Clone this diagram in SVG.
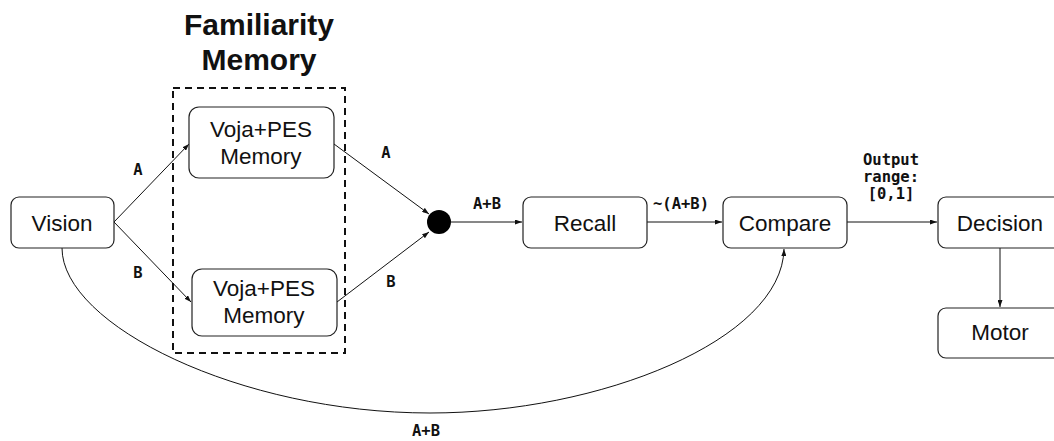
<svg xmlns="http://www.w3.org/2000/svg" width="1054" height="441" viewBox="0 0 1054 441">
<style>
.box{fill:#fff;stroke:#222;stroke-width:1.2}
.t{font-family:"Liberation Sans",Arial,sans-serif;font-size:22.5px;fill:#111;text-anchor:middle}
.title{font-family:"Liberation Sans",Arial,sans-serif;font-size:30px;font-weight:bold;fill:#111;text-anchor:middle}
.lbl{font-family:"DejaVu Sans Mono","Liberation Mono",monospace;font-size:15.5px;font-weight:bold;fill:#111;text-anchor:middle}
.e{fill:none;stroke:#111;stroke-width:1;marker-end:url(#arr)}
</style>
<defs>
<marker id="arr" markerUnits="userSpaceOnUse" viewBox="0 0 7 5" markerWidth="7" markerHeight="5" refX="7" refY="2.5" orient="auto">
<path d="M0,0 L7,2.5 L0,5 z" fill="#111"/>
</marker>
</defs>
<rect width="1054" height="441" fill="#fff"/>

<g id="familiarity-group">
<rect x="173" y="88" width="172" height="265" fill="none" stroke="#111" stroke-width="2" stroke-dasharray="7 5"/>
<text class="title" x="259" y="35">Familiarity</text>
<text class="title" x="259" y="70">Memory</text>
</g>

<g id="connectors">
<path class="e" d="M114,222 L189,144"/>
<path class="e" d="M114,222 L191,302"/>
<path class="e" d="M334,144 L429,214"/>
<path class="e" d="M337,302 L429,232"/>
<path class="e" d="M451,222 L522,222"/>
<path class="e" d="M647,222 L722,222"/>
<path class="e" d="M847,222 L937,222"/>
<path class="e" d="M1000,248 L1000,307"/>
<path class="e" d="M62,248 C62,325 240,413 430,413 C600,413 782,340 784,249"/>
<text class="lbl" x="138" y="175">A</text>
<text class="lbl" x="138" y="278">B</text>
<text class="lbl" x="386" y="158">A</text>
<text class="lbl" x="391" y="287">B</text>
<text class="lbl" x="487" y="209">A+B</text>
<text class="lbl" x="681" y="209">~(A+B)</text>
<text class="lbl" x="891" y="165">Output</text>
<text class="lbl" x="891" y="182">range:</text>
<text class="lbl" x="891" y="199">[0,1]</text>
<text class="lbl" x="426" y="436">A+B</text>
</g>

<g id="vision">
<rect class="box" x="11" y="197" width="103" height="51" rx="8"/>
<text class="t" x="62" y="231">Vision</text>
</g>
<g id="voja-a">
<rect class="box" x="189" y="107" width="145" height="71" rx="10"/>
<text class="t" x="261" y="137">Voja+PES</text>
<text class="t" x="261" y="164">Memory</text>
</g>
<g id="voja-b">
<rect class="box" x="192" y="269" width="145" height="67" rx="10"/>
<text class="t" x="264" y="296">Voja+PES</text>
<text class="t" x="264" y="323">Memory</text>
</g>
<g id="junction">
<circle cx="439" cy="222" r="12" fill="#000"/>
</g>
<g id="recall">
<rect class="box" x="523" y="197" width="124" height="51" rx="8"/>
<text class="t" x="585" y="231">Recall</text>
</g>
<g id="compare">
<rect class="box" x="723" y="197" width="124" height="51" rx="8"/>
<text class="t" x="785" y="231">Compare</text>
</g>
<g id="decision">
<rect class="box" x="938" y="197" width="124" height="51" rx="8"/>
<text class="t" x="1000" y="231">Decision</text>
</g>
<g id="motor">
<rect class="box" x="938" y="308" width="124" height="50" rx="8"/>
<text class="t" x="1000" y="340">Motor</text>
</g>
</svg>
